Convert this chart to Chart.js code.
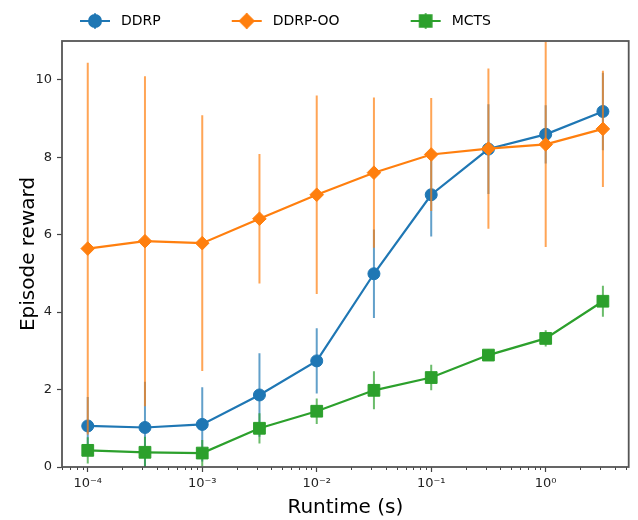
<!DOCTYPE html>
<html><head><meta charset="utf-8">
<script src="https://cdn.jsdelivr.net/npm/chart.js@4/dist/chart.umd.min.js"></script>
<style>html,body{margin:0;padding:0;background:#fff}</style>
</head><body>
<canvas id="c" width="638" height="520"></canvas>
<script>
// ---- data ----
const runtimes   = [0.0001, 0.000316, 0.001, 0.00316, 0.01, 0.0316, 0.1, 0.316, 1, 3.16];
const ddrpMean   = [1.06, 1.02, 1.10, 1.86, 2.74, 4.99, 7.03, 8.21, 8.59, 9.18];
const ddrpErr    = [0.75, 1.18, 0.96, 1.08, 0.84, 1.14, 1.08, 1.16, 0.75, 1.00];
const ooMean     = [5.64, 5.83, 5.78, 6.41, 7.03, 7.60, 8.07, 8.22, 8.33, 8.73];
const ooErr      = [4.80, 4.26, 3.30, 1.67, 2.56, 1.94, 1.46, 2.07, 2.65, 1.50];
const mctsMean   = [0.43, 0.38, 0.36, 1.00, 1.44, 1.98, 2.31, 2.89, 3.32, 4.28];
const mctsErr    = [0.34, 0.40, 0.34, 0.39, 0.33, 0.49, 0.33, 0.15, 0.21, 0.40];
const seriesNames = ['DDRP', 'DDRP-OO', 'MCTS'];
const xTickValues = [1e-4, 1e-3, 1e-2, 1e-1, 1];
const xTickLabels = ['10\u207B\u2074', '10\u207B\u00B3', '10\u207B\u00B2', '10\u207B\u00B9', '10\u2070'];
const yTickValues = [0, 2, 4, 6, 8, 10];
const xLimits = [Math.pow(10, -4.225), Math.pow(10, 0.725)];
const yLimits = [0, 11];

const FONT = "'DejaVu Sans', sans-serif";
const colors = ['#1f77b4', '#ff7f0e', '#2ca02c'];
const errColors = ['rgba(31,119,180,0.7)', 'rgba(255,127,14,0.7)', 'rgba(44,160,44,0.7)'];
const styles = ['circle', 'rectRot', 'rect'];
const radii = [6, 6.8, 8.3];

function toPoints(mean) { return runtimes.map((x, i) => ({x, y: mean[i]})); }

function legendIcon(i) {
  const c = document.createElement('canvas');
  c.width = 95; c.height = 22;
  const g = c.getContext('2d');
  const cy = 11, cx = 76;
  g.strokeStyle = errColors[i]; g.lineWidth = 2;
  g.beginPath(); g.moveTo(cx, cy - 8); g.lineTo(cx, cy + 8); g.stroke();
  g.strokeStyle = colors[i]; g.lineWidth = 2;
  g.beginPath(); g.moveTo(61, cy); g.lineTo(91, cy); g.stroke();
  g.fillStyle = colors[i];
  Chart.helpers.drawPoint(g, {pointStyle: styles[i], radius: radii[i], borderWidth: 1}, cx, cy);
  g.fill();
  return c;
}

const errorBarPlugin = {
  id: 'errorBars',
  beforeDatasetDraw(chart, args) {
    const ds = chart.data.datasets[args.index];
    if (!ds.errors) return;
    const {ctx, chartArea: a, scales: {x, y}} = chart;
    ctx.save();
    ctx.beginPath(); ctx.rect(a.left, a.top, a.right - a.left, a.bottom - a.top); ctx.clip();
    ctx.strokeStyle = ds.errorColor; ctx.lineWidth = 2;
    ds.data.forEach((p, i) => {
      const e = ds.errors[i];
      const px = x.getPixelForValue(p.x);
      ctx.beginPath();
      ctx.moveTo(px, y.getPixelForValue(p.y - e));
      ctx.lineTo(px, y.getPixelForValue(p.y + e));
      ctx.stroke();
    });
    ctx.restore();
  }
};

const framePlugin = {
  id: 'frame',
  afterDraw(chart) {
    const {ctx, chartArea: a, scales: {x}} = chart;
    ctx.save();
    // minor log ticks
    ctx.strokeStyle = '#444'; ctx.lineWidth = 1;
    for (let k = -5; k <= 0; k++) {
      for (let m = 2; m <= 9; m++) {
        const v = m * Math.pow(10, k);
        if (v <= xLimits[0] || v >= xLimits[1]) continue;
        const px = Math.round(x.getPixelForValue(v)) + 0.5;
        ctx.beginPath(); ctx.moveTo(px, a.bottom); ctx.lineTo(px, a.bottom + 3); ctx.stroke();
      }
    }
    ctx.strokeStyle = '#555'; ctx.lineWidth = 1.8;
    ctx.strokeRect(a.left, a.top, a.right - a.left, a.bottom - a.top);
    ctx.restore();
  }
};

const datasets = [ddrpMean, ooMean, mctsMean].map((mean, i) => ({
  label: seriesNames[i],
  data: toPoints(mean),
  errors: [ddrpErr, ooErr, mctsErr][i],
  errorColor: errColors[i],
  borderColor: colors[i],
  backgroundColor: colors[i],
  pointBackgroundColor: colors[i],
  pointBorderColor: colors[i],
  pointBorderWidth: 1,
  pointStyle: styles[i],
  pointRadius: radii[i],
  pointHoverRadius: radii[i],
  borderWidth: 2.2,
  tension: 0,
  fill: false,
  order: 3 - i
}));

new Chart(document.getElementById('c'), {
  type: 'line',
  data: {datasets},
  plugins: [errorBarPlugin, framePlugin],
  options: {
    responsive: false,
    animation: false,
    layout: {padding: {left: 9, top: 4, right: 4, bottom: 0}},
    plugins: {
      tooltip: {enabled: false},
      title: {display: true, text: '', weight: 500, font: {size: 1, lineHeight: 1}, padding: {top: 0, bottom: 2}},
      legend: {
        position: 'top', align: 'start',
        labels: {
          usePointStyle: true, pointStyleWidth: 95, padding: 10,
          color: '#000', font: {family: FONT, size: 14},
          generateLabels(chart) {
            return chart.data.datasets.map((ds, i) => ({
              text: ds.label, fillStyle: colors[i], strokeStyle: colors[i], lineWidth: 0,
              pointStyle: legendIcon(i), hidden: false, datasetIndex: i, fontColor: '#000'
            }));
          }
        }
      }
    },
    scales: {
      x: {
        type: 'logarithmic', min: xLimits[0], max: xLimits[1],
        afterBuildTicks(s) { s.ticks = xTickValues.map(v => ({value: v})); },
        afterFit(s) { s.height = 53; },
        grid: {display: true, drawOnChartArea: false, drawTicks: true, tickLength: 5, tickColor: '#444', tickWidth: 1.2},
        border: {display: false},
        ticks: {autoSkip: false, maxRotation: 0, padding: 4, color: '#222', font: {family: FONT, size: 13},
          callback(v, i) { return xTickLabels[i]; }},
        title: {display: true, text: 'Runtime (s)', color: '#000', font: {family: FONT, size: 20}, padding: {top: 0, bottom: 0}}
      },
      y: {
        type: 'linear', min: yLimits[0], max: yLimits[1],
        afterBuildTicks(s) { s.ticks = yTickValues.map(v => ({value: v})); },
        afterFit(s) { s.width = 53; },
        grid: {display: true, drawOnChartArea: false, drawTicks: true, tickLength: 5, tickColor: '#444', tickWidth: 1.2},
        border: {display: false},
        ticks: {padding: 5, color: '#222', font: {family: FONT, size: 13}, callback(v) { return String(v); }},
        title: {display: true, text: 'Episode reward', color: '#000', font: {family: FONT, size: 20}, padding: {top: 8, bottom: 0}}
      }
    }
  }
});
</script>
</body></html>
